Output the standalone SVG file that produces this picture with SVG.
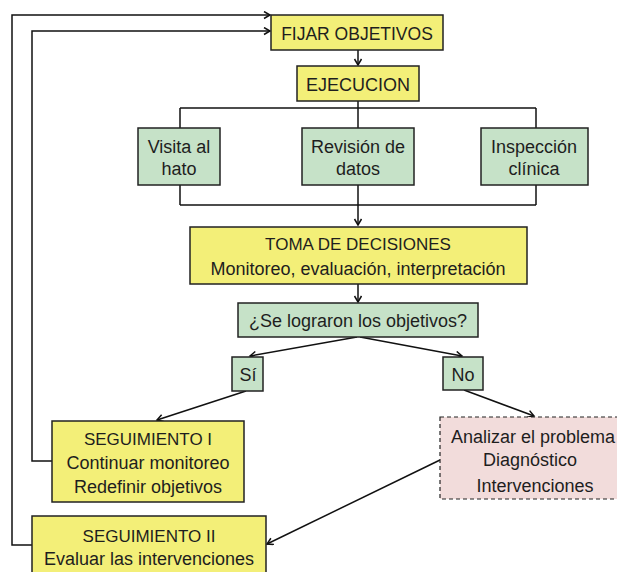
<svg xmlns="http://www.w3.org/2000/svg" width="617" height="572" viewBox="0 0 617 572">
<defs>
<style>
.y{fill:#f3ef78;stroke:#222;stroke-width:1.5}
.g{fill:#c6e2c8;stroke:#222;stroke-width:1.5}
.p{fill:#f2dcdb;stroke:#222;stroke-width:1.2;stroke-dasharray:4 3}
text{font-family:"Liberation Sans",Arial,sans-serif;fill:#1e1e1e;text-anchor:middle}
.c{font-size:17px}
.l{font-size:18px}
.ln{fill:none;stroke:#111;stroke-width:1.5}
</style>
<marker id="ah" markerWidth="9" markerHeight="9" refX="7" refY="4" orient="auto" markerUnits="userSpaceOnUse">
<path d="M1,0.5 L7,4 L1,7.5" fill="none" stroke="#111" stroke-width="1.5"/>
</marker>
</defs>
<rect width="617" height="572" fill="#fff"/>
<g id="connectors">
<polyline class="ln" points="32,545 12,545 12,15 270,15" marker-end="url(#ah)"/>
<polyline class="ln" points="52,461 32,461 32,31 270,31" marker-end="url(#ah)"/>
<line class="ln" x1="358" y1="50" x2="358" y2="65" marker-end="url(#ah)"/>
<line class="ln" x1="358" y1="101" x2="358" y2="128"/>
<line class="ln" x1="180" y1="108" x2="536" y2="108"/>
<line class="ln" x1="180" y1="108" x2="180" y2="128"/>
<line class="ln" x1="536" y1="108" x2="536" y2="128"/>
<line class="ln" x1="180" y1="185" x2="180" y2="205"/>
<line class="ln" x1="536" y1="185" x2="536" y2="205"/>
<line class="ln" x1="358" y1="185" x2="358" y2="205"/>
<line class="ln" x1="180" y1="205" x2="536" y2="205"/>
<line class="ln" x1="358" y1="205" x2="358" y2="225" marker-end="url(#ah)"/>
<line class="ln" x1="358" y1="284" x2="358" y2="302" marker-end="url(#ah)"/>
<line class="ln" x1="357" y1="337" x2="250" y2="356" marker-end="url(#ah)"/>
<line class="ln" x1="360" y1="337" x2="462" y2="356" marker-end="url(#ah)"/>
<line class="ln" x1="246" y1="391" x2="157" y2="420" marker-end="url(#ah)"/>
<line class="ln" x1="464" y1="390" x2="534" y2="416" marker-end="url(#ah)"/>
<line class="ln" x1="440" y1="460" x2="267" y2="544" marker-end="url(#ah)"/>
</g>
<g id="fijar">
<rect class="y" x="271" y="15" width="172" height="35"/>
<text class="c" x="357" y="40" style="font-size:17.5px">FIJAR OBJETIVOS</text>
</g>
<g id="ejecucion">
<rect class="y" x="297" y="66" width="122" height="35"/>
<text class="c" x="358" y="91" style="font-size:18px">EJECUCION</text>
</g>
<g id="visita">
<rect class="g" x="138" y="128" width="82" height="57"/>
<text class="l" x="179" y="153">Visita al</text>
<text class="l" x="179" y="175">hato</text>
</g>
<g id="revision">
<rect class="g" x="302" y="128" width="112" height="57"/>
<text class="l" x="358" y="153">Revisión de</text>
<text class="l" x="358" y="175">datos</text>
</g>
<g id="inspeccion">
<rect class="g" x="481" y="128" width="107" height="57"/>
<text class="l" x="534" y="153">Inspección</text>
<text class="l" x="534" y="175">clínica</text>
</g>
<g id="toma">
<rect class="y" x="190" y="227" width="337" height="57"/>
<text class="c" x="358" y="250">TOMA DE DECISIONES</text>
<text class="l" x="358" y="275">Monitoreo, evaluación, interpretación</text>
</g>
<g id="pregunta">
<rect class="g" x="238" y="303" width="240" height="34"/>
<text class="l" x="358" y="327">¿Se lograron los objetivos?</text>
</g>
<g id="si">
<rect class="g" x="232" y="357" width="31" height="34"/>
<text class="l" x="248" y="381">Sí</text>
</g>
<g id="no">
<rect class="g" x="443" y="357" width="40" height="33"/>
<text class="l" x="463" y="381">No</text>
</g>
<g id="seguimiento1">
<rect class="y" x="52" y="421" width="192" height="81"/>
<text class="c" x="148" y="445">SEGUIMIENTO I</text>
<text class="l" x="148" y="469">Continuar monitoreo</text>
<text class="l" x="148" y="493">Redefinir objetivos</text>
</g>
<g id="analizar">
<rect class="p" x="440" y="417" width="186" height="82"/>
<text class="l" x="533" y="443">Analizar el problema</text>
<text class="l" x="530" y="466">Diagnóstico</text>
<text class="l" x="535" y="492">Intervenciones</text>
</g>
<g id="seguimiento2">
<rect class="y" x="32" y="516" width="234" height="64"/>
<text class="c" x="149" y="542">SEGUIMIENTO II</text>
<text class="l" x="149" y="565">Evaluar las intervenciones</text>
</g>
</svg>
